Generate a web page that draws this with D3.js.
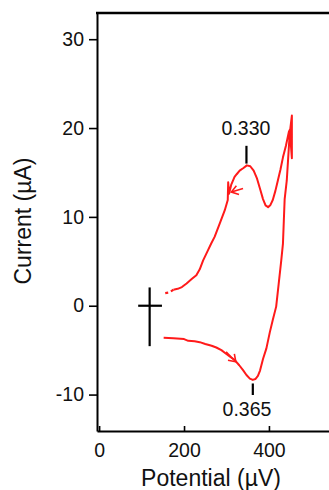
<!DOCTYPE html>
<html>
<head>
<meta charset="utf-8">
<script src="https://cdn.jsdelivr.net/npm/d3@7"></script>
<style>
  html, body { margin: 0; padding: 0; background: #fff; }
  svg { display: block; }
</style>
</head>
<body>
<div id="chart"></div>
<script>
// forward scan (lower branch, then steep rise) - potential (mV), current (uA)
const fwdPotential = [152, 175, 200, 210, 225, 237, 250, 265, 276, 288, 299, 310, 319, 330, 339, 347, 355, 362, 368, 374, 379, 386, 394, 402, 409, 417, 423, 429, 433, 435, 437, 442, 445, 449, 454, 454, 449];
const fwdCurrent   = [-3.6, -3.65, -3.75, -3.95, -4.0, -4.1, -4.3, -4.5, -4.7, -5.0, -5.4, -5.8, -6.1, -6.7, -7.25, -7.8, -8.2, -8.35, -8.25, -7.9, -7.3, -6.0, -4.8, -3.0, -1.6, -0.1, 2.5, 5.1, 7.0, 9.5, 12.0, 14.1, 16.4, 19.4, 21.4, 16.6, 19.8];

// reverse scan (upper branch, going left)
const revPotential = [449, 447, 440, 433, 427, 421, 415, 409, 403, 398, 392, 386, 380, 372, 364, 356, 348, 340, 331, 324, 319, 311, 306, 304, 303, 296, 290, 284, 272, 264, 256, 245, 237, 229, 218, 206, 195, 185, 175];
const revCurrent   = [19.8, 19.6, 18.0, 16.7, 15.3, 14.1, 12.9, 11.9, 11.3, 11.1, 11.3, 12.0, 13.0, 14.3, 15.2, 15.7, 15.8, 15.5, 15.2, 14.8, 14.5, 13.6, 12.6, 13.9, 11.9, 10.75, 10.0, 9.25, 7.75, 7.0, 6.2, 5.1, 4.1, 3.44, 3.0, 2.5, 2.1, 1.9, 1.8];

// dotted tail of the reverse scan
const tailPotential = [175, 165, 152];
const tailCurrent   = [1.8, 1.5, 1.4];

// scan direction arrows: [x1, y1, x2, y2] in data units, head at (x2, y2)
const arrowUpper = [339, 13.2, 311.5, 12.8];
const arrowLower = [299, -5.2, 322, -6.3];

// peak labels
const peakLabels = ["0.330", "0.365"];
const peakPotential = [347, 362];
const peakTickTop = [18.0, -8.75];
const peakTickBottom = [16.0, -10.05];

// reference cross (scale marker)
const crossX = [92, 148];
const crossMid = 119;
const crossY = [2.06, -4.55];

const xTicks = [0, 200, 400];
const yTicks = [-10, 0, 10, 20, 30];

const W = 329, H = 490;
const plotLeft = 97, plotRight = 339, plotTop = 13, plotBottom = 431;
const font = "'Liberation Sans', Arial, Helvetica, sans-serif";
const red = "#ff1a1a";

const svg = d3.select("#chart").append("svg")
  .attr("width", W)
  .attr("height", H)
  .style("background", "#fff");

const x = d3.scaleLinear().domain([-5, 565]).range([plotLeft, plotRight]);
const y = d3.scaleLinear().domain([-14.1, 32.95]).range([plotBottom, plotTop]);

// axes
const yAxis = d3.axisLeft(y).tickValues(yTicks).tickSizeInner(8).tickSizeOuter(0).tickPadding(5).tickFormat(d => String(d));
const xAxis = d3.axisBottom(x).tickValues(xTicks).tickSizeInner(-5).tickSizeOuter(0).tickPadding(12).tickFormat(d => String(d));

const gy = svg.append("g").attr("transform", `translate(${plotLeft},0)`).call(yAxis);
const gx = svg.append("g").attr("transform", `translate(0,${plotBottom})`).call(xAxis);

[gx, gy].forEach(g => {
  g.select(".domain").attr("stroke", "#000").attr("stroke-width", 2);
  g.selectAll(".tick line").attr("stroke", "#000").attr("stroke-width", 1.6);
  g.selectAll(".tick text")
    .attr("fill", "#111")
    .style("font-family", font)
    .style("font-size", "19.5px");
});

// top frame line
svg.append("line")
  .attr("x1", plotLeft - 1).attr("x2", plotRight)
  .attr("y1", plotTop).attr("y2", plotTop)
  .attr("stroke", "#000").attr("stroke-width", 2.4);

// axis titles
svg.append("text")
  .text("Potential (µV)")
  .attr("x", 211).attr("y", 486)
  .attr("text-anchor", "middle")
  .style("font-family", font)
  .style("font-size", "23px")
  .attr("fill", "#111");

svg.append("text")
  .text("Current (µA)")
  .attr("transform", "translate(31,221) rotate(-90)")
  .attr("text-anchor", "middle")
  .style("font-family", font)
  .style("font-size", "23px")
  .attr("fill", "#111");

// CV curve
const line = d3.line().x(d => x(d[0])).y(d => y(d[1]));
const fwd = fwdPotential.map((p, i) => [p, fwdCurrent[i]]);
const rev = revPotential.map((p, i) => [p, revCurrent[i]]);
const tail = tailPotential.map((p, i) => [p, tailCurrent[i]]);

svg.append("path")
  .attr("d", line(fwd.concat(rev)))
  .attr("fill", "none")
  .attr("stroke", red)
  .attr("stroke-width", 2)
  .attr("stroke-linejoin", "round");

svg.append("path")
  .attr("d", line(tail))
  .attr("fill", "none")
  .attr("stroke", red)
  .attr("stroke-width", 2.2)
  .attr("stroke-dasharray", "3,3");

// arrows
function drawArrow(a) {
  const x1 = x(a[0]), y1 = y(a[1]), x2 = x(a[2]), y2 = y(a[3]);
  const ang = Math.atan2(y2 - y1, x2 - x1);
  const len = 8, spread = 0.6;
  svg.append("line")
    .attr("x1", x1).attr("y1", y1).attr("x2", x2).attr("y2", y2)
    .attr("stroke", red).attr("stroke-width", 1.6);
  svg.append("path")
    .attr("d", `M${x2 - len * Math.cos(ang - spread)},${y2 - len * Math.sin(ang - spread)}L${x2},${y2}L${x2 - len * Math.cos(ang + spread)},${y2 - len * Math.sin(ang + spread)}`)
    .attr("fill", "none")
    .attr("stroke", red).attr("stroke-width", 1.6);
}
drawArrow(arrowUpper);
drawArrow(arrowLower);

// peak ticks and labels
peakLabels.forEach((lab, i) => {
  svg.append("line")
    .attr("x1", x(peakPotential[i])).attr("x2", x(peakPotential[i]))
    .attr("y1", y(peakTickTop[i])).attr("y2", y(peakTickBottom[i]))
    .attr("stroke", "#000").attr("stroke-width", 2.2);
});
svg.append("text")
  .text(peakLabels[0])
  .attr("x", 246).attr("y", 135)
  .attr("text-anchor", "middle")
  .style("font-family", font).style("font-size", "19.5px").attr("fill", "#111");
svg.append("text")
  .text(peakLabels[1])
  .attr("x", 247).attr("y", 416)
  .attr("text-anchor", "middle")
  .style("font-family", font).style("font-size", "19.5px").attr("fill", "#111");

// reference cross
svg.append("line")
  .attr("x1", x(crossX[0])).attr("x2", x(crossX[1]))
  .attr("y1", y(0)).attr("y2", y(0))
  .attr("stroke", "#000").attr("stroke-width", 2.2);
svg.append("line")
  .attr("x1", x(crossMid)).attr("x2", x(crossMid))
  .attr("y1", y(crossY[0])).attr("y2", y(crossY[1]))
  .attr("stroke", "#000").attr("stroke-width", 2.2);
</script>
</body>
</html>
